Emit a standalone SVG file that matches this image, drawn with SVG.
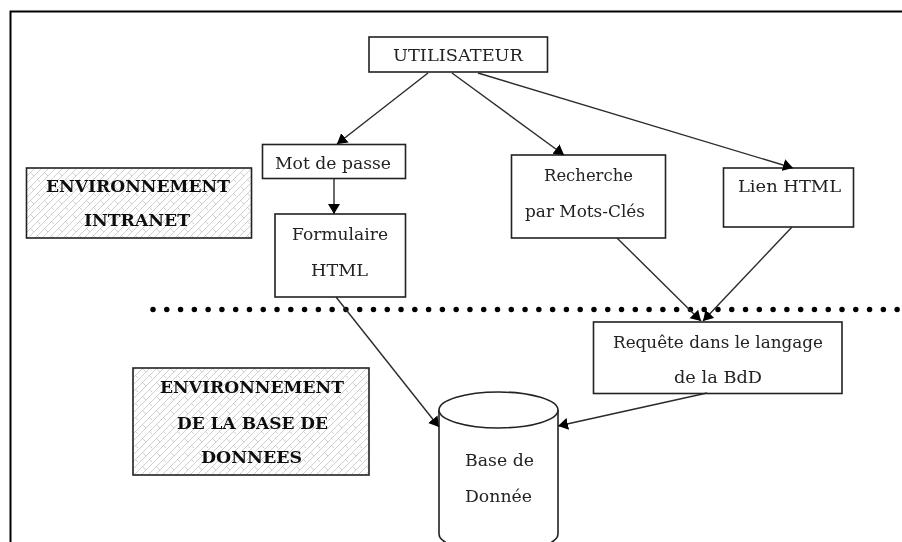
<svg xmlns="http://www.w3.org/2000/svg" width="902" height="542" viewBox="0 0 902 542">
<defs>
<style>
.box{fill:#fff;stroke:#222;stroke-width:1.6}
.hatched{fill:url(#hatch);stroke:#222;stroke-width:1.6}
text{font-family:"DejaVu Serif","Liberation Serif",serif;font-size:16.500px;fill:#222}
.b{font-weight:bold;font-size:17px;fill:#111}
.c{fill:none;stroke:#2a2a2a;stroke-width:1.4;marker-end:url(#arrow)}
</style>
<marker id="arrow" markerUnits="userSpaceOnUse" markerWidth="13" markerHeight="13" refX="10" refY="6.500" orient="auto"><path d="M0 0.500L10 6.500L0 12.500Z" fill="#000"/></marker>
<pattern id="hatch" patternUnits="userSpaceOnUse" width="14" height="14"><rect width="14" height="14" fill="#fff"/><path d="M-1 8L8 -1M6 15L15 6M-1 15L15 -1M2 4L6 8M9 11L13 15" stroke="#c4c4c4" stroke-width="0.8" fill="none"/></pattern>
<filter id="soft" x="0" y="0" width="902" height="542" filterUnits="userSpaceOnUse"><feGaussianBlur stdDeviation="0.45"/></filter>
</defs>
<rect width="902" height="542" fill="#fff"/>
<g filter="url(#soft)">
<path id="frame" d="M10.500 542V11.500H902" fill="none" stroke="#000" stroke-width="2"/>
<line id="separator" x1="153" y1="309.500" x2="902" y2="309.500" stroke="#000" stroke-width="5.500" stroke-linecap="round" stroke-dasharray="0 13.780"/>
<g id="utilisateur"><rect class="box" x="369" y="37" width="178.500" height="35"/><text x="393" y="61" textLength="130" lengthAdjust="spacingAndGlyphs">UTILISATEUR</text></g>
<g id="mot-de-passe"><rect class="box" x="262.500" y="144.500" width="143" height="34"/><text x="275" y="169" textLength="116" lengthAdjust="spacingAndGlyphs">Mot de passe</text></g>
<g id="formulaire"><rect class="box" x="275" y="214" width="130.500" height="83"/><text x="292" y="240" textLength="96" lengthAdjust="spacingAndGlyphs">Formulaire</text><text x="311" y="276" textLength="57" lengthAdjust="spacingAndGlyphs">HTML</text></g>
<g id="recherche"><rect class="box" x="511.500" y="155" width="154" height="83"/><text x="544" y="181" textLength="89" lengthAdjust="spacingAndGlyphs">Recherche</text><text x="525" y="217" textLength="120" lengthAdjust="spacingAndGlyphs">par Mots-Clés</text></g>
<g id="lien"><rect class="box" x="723.500" y="168" width="130" height="59"/><text x="738" y="192" textLength="103" lengthAdjust="spacingAndGlyphs">Lien HTML</text></g>
<g id="requete"><rect class="box" x="593.500" y="322" width="248.500" height="71.500"/><text x="613" y="348" textLength="210" lengthAdjust="spacingAndGlyphs">Requête dans le langage</text><text x="674" y="383" textLength="88" lengthAdjust="spacingAndGlyphs">de la BdD</text></g>
<g id="base"><path class="box" d="M439 410V534A59.500 18 0 0 0 558 534V410"/><ellipse class="box" cx="498.500" cy="410" rx="59.500" ry="18"/><text x="465" y="466" textLength="69" lengthAdjust="spacingAndGlyphs">Base de</text><text x="465" y="502" textLength="67" lengthAdjust="spacingAndGlyphs">Donnée</text></g>
<g id="env-intranet"><rect class="hatched" x="26.500" y="168" width="225" height="70"/><text class="b" x="46" y="192" textLength="184" lengthAdjust="spacingAndGlyphs">ENVIRONNEMENT</text><text class="b" x="84" y="226" textLength="106" lengthAdjust="spacingAndGlyphs">INTRANET</text></g>
<g id="env-base"><rect class="hatched" x="133" y="368" width="236" height="107"/><text class="b" x="160" y="393" textLength="184" lengthAdjust="spacingAndGlyphs">ENVIRONNEMENT</text><text class="b" x="177" y="429" textLength="151" lengthAdjust="spacingAndGlyphs">DE LA BASE DE</text><text class="b" x="201" y="463" textLength="101" lengthAdjust="spacingAndGlyphs">DONNEES</text></g>
<g id="connectors">
<line class="c" x1="428" y1="73" x2="337" y2="144"/>
<line class="c" x1="452" y1="73" x2="564" y2="155"/>
<line class="c" x1="478" y1="73" x2="793" y2="168"/>
<line class="c" x1="334" y1="178" x2="334" y2="214"/>
<line class="c" x1="336" y1="297" x2="439" y2="427"/>
<line class="c" x1="617" y1="238" x2="701" y2="321"/>
<line class="c" x1="792" y1="227" x2="703" y2="321"/>
<line class="c" x1="707" y1="393" x2="558" y2="426"/>
</g>
</g>
</svg>
